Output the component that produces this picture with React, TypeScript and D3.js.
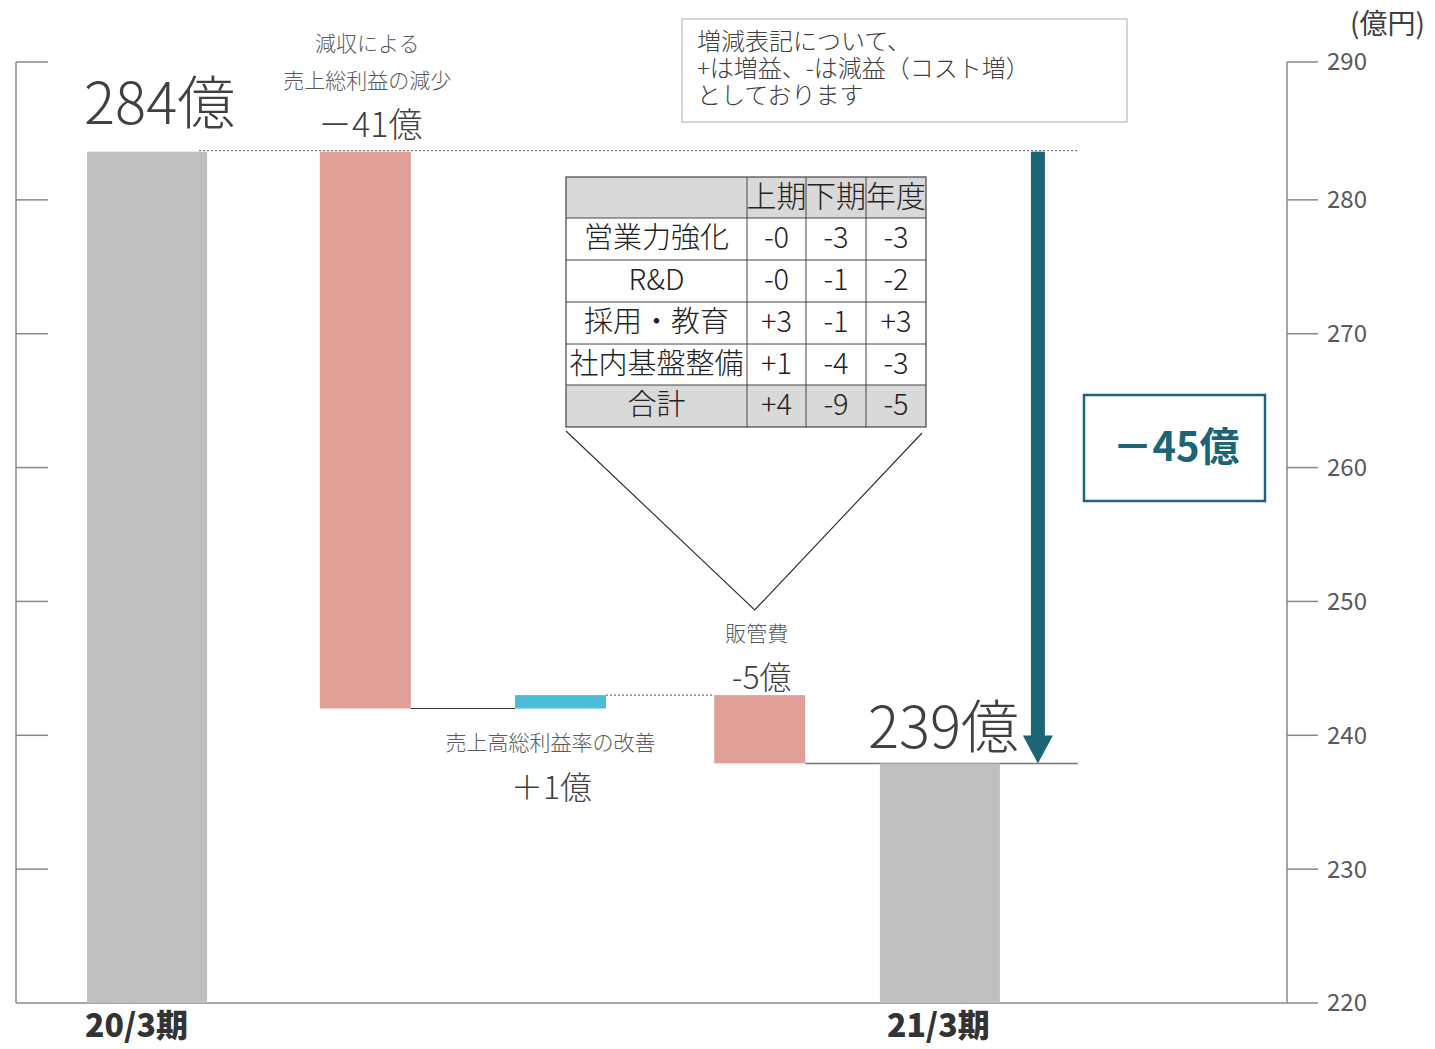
import * as d3 from 'd3';

const categories = ['20/3期', '減収', '改善', '販管費', '21/3期'];
const startValue = 283.6;
const deltas = [-41.6, 1.0, -5.1];
const endValue = 237.9;
const valueLabels = ['284億', '－41億', '＋1億', '-5億', '239億'];
const deltaTitles = [['減収による', '売上総利益の減少'], ['売上高総利益率の改善'], ['販管費']];
const totalLabel = '－45億';
const yTicks = [220, 230, 240, 250, 260, 270, 280, 290];
const unitLabel = '(億円)';
const noteLines = ['増減表記について、', '+は増益、-は減益（コスト増）', 'としております'];
const tableHeader = ['', '上期', '下期', '年度'];
const tableRows = [
  ['営業力強化', '-0', '-3', '-3'],
  ['R&D', '-0', '-1', '-2'],
  ['採用・教育', '+3', '-1', '+3'],
  ['社内基盤整備', '+1', '-4', '-3'],
  ['合計', '+4', '-9', '-5'],
];

const W = 1435;
const H = 1049;
const FONT = '"Noto Sans CJK JP", "Noto Sans", sans-serif';
const GREY = '#bfbfbf';
const RED = '#e0a097';
const BLUE = '#4bbdd8';
const TEAL = '#1d6475';
const TEXT = '#404040';
const LABEL = '#595959';

export default function App() {
  const y = d3.scaleLinear().domain([220, 290]).range([1003, 66]);
  const x = d3.scaleBand<string>().domain(categories).range([59, 1050]);
  // totals sit a little further out than the step bars
  const nudge = [-11, 9, 6, 7, -11];
  const axisLeftX = 16;
  const axisRightX = 1287;

  // waterfall segments
  const steps: { cat: string; y0: number; y1: number; color: string }[] = [];
  let running = startValue;
  steps.push({ cat: categories[0], y0: 220, y1: startValue, color: GREY });
  deltas.forEach((d, i) => {
    const next = running + d;
    steps.push({ cat: categories[i + 1], y0: running, y1: next, color: d < 0 ? RED : BLUE });
    running = next;
  });
  steps.push({ cat: categories[4], y0: 220, y1: endValue, color: GREY });

  const bc = (i: number) => (x(steps[i].cat) ?? 0) + x.bandwidth() / 2 + nudge[i];
  const barW = (i: number) => (i === 0 || i === 4 ? 120 : 91);
  const barX = (i: number) => bc(i) - barW(i) / 2;

  const arrowX = barX(4) + barW(4) + 38;
  const yStart = y(startValue);
  const yEnd = y(endValue);

  // table layout
  const tX = 566;
  const tY = 177;
  const colW = [181, 59, 60, 60];
  const rowH = [41, 42, 42, 42, 41, 42];
  const colX = colW.map((_, i) => tX + d3.sum(colW.slice(0, i)));
  const rowY = rowH.map((_, i) => tY + d3.sum(rowH.slice(0, i)));
  const tW = d3.sum(colW);
  const tH = d3.sum(rowH);
  const allRows = [tableHeader, ...tableRows];

  const tickY = (t: number) => y(t) - (t === 290 ? 4 : 0);

  return (
    <svg width={W} height={H} style={{ position: 'absolute', left: 0, top: 0, background: '#fff' }} fontFamily={FONT}>
      {/* axes */}
      <line x1={axisLeftX} x2={axisLeftX} y1={tickY(290)} y2={y(220)} stroke="#888" strokeWidth={1.5} />
      <line x1={axisRightX} x2={axisRightX} y1={tickY(290)} y2={y(220)} stroke="#888" strokeWidth={1.5} />
      <line x1={axisLeftX} x2={axisRightX} y1={y(220)} y2={y(220)} stroke="#888" strokeWidth={1.5} />
      {yTicks.map(t => (
        <g key={t}>
          {t !== 220 && <line x1={axisLeftX} x2={axisLeftX + 32} y1={tickY(t)} y2={tickY(t)} stroke="#888" strokeWidth={1.5} />}
          <line x1={axisRightX} x2={axisRightX + 31} y1={tickY(t)} y2={tickY(t)} stroke="#888" strokeWidth={1.5} />
          <text x={axisRightX + 40} y={tickY(t)} dy="0.35em" fontSize={24} fill={LABEL}>{t}</text>
        </g>
      ))}
      <text x={1425} y={24} dy="0.35em" textAnchor="end" fontSize={28} fill={TEXT}>{unitLabel}</text>

      {/* connectors */}
      <line x1={barX(0) + barW(0) - 8} x2={arrowX + 40} y1={yStart - 1} y2={yStart - 1} stroke="#555" strokeWidth={1} strokeDasharray="2,2" />
      <line x1={barX(1) + barW(1)} x2={barX(2)} y1={y(steps[1].y1)} y2={y(steps[1].y1)} stroke="#333" strokeWidth={1.2} />
      <line x1={barX(2) + barW(2)} x2={barX(3)} y1={y(steps[2].y1)} y2={y(steps[2].y1)} stroke="#555" strokeWidth={1} strokeDasharray="2,2" />
      <line x1={barX(3) + barW(3)} x2={arrowX + 40} y1={yEnd} y2={yEnd} stroke="#777" strokeWidth={1.5} />

      {/* bars */}
      {steps.map((s, i) => (
        <rect key={s.cat} x={barX(i)} width={barW(i)} y={y(Math.max(s.y0, s.y1))}
          height={Math.abs(y(s.y0) - y(s.y1))} fill={s.color} />
      ))}

      {/* arrow */}
      <rect x={arrowX - 7} width={14} y={yStart} height={yEnd - yStart - 26} fill={TEAL} />
      <path d={`M${arrowX - 15},${yEnd - 28} L${arrowX + 15},${yEnd - 28} L${arrowX},${yEnd} Z`} fill={TEAL} />

      {/* total box */}
      <rect x={1084} y={395} width={181} height={106} fill="none" stroke={TEAL} strokeWidth={2.5} />
      <text x={1176} y={447} dy="0.35em" textAnchor="middle" fontSize={40} fontWeight={700} fill={TEAL}>{totalLabel}</text>

      {/* value labels */}
      <text x={barX(0) - 3} y={104} dy="0.35em" fontSize={58} fontWeight={300} fill={TEXT}>{valueLabels[0]}</text>
      <text x={bc(1) + 5} y={125} dy="0.35em" textAnchor="middle" fontSize={34} fontWeight={300} fill={TEXT}>{valueLabels[1]}</text>
      <text x={bc(2) - 9} y={788} dy="0.35em" textAnchor="middle" fontSize={32} fontWeight={300} fill={TEXT}>{valueLabels[2]}</text>
      <text x={bc(3) + 2} y={678} dy="0.35em" textAnchor="middle" fontSize={32} fontWeight={300} fill={TEXT}>{valueLabels[3]}</text>
      <text x={barX(4) - 12} y={728} dy="0.35em" fontSize={58} fontWeight={300} fill={TEXT}>{valueLabels[4]}</text>

      {/* delta titles */}
      {deltaTitles[0].map((t, j) => (
        <text key={t} x={bc(1) + 2} y={44 + j * 37} dy="0.35em" textAnchor="middle" fontSize={21} fontWeight={300} fill={LABEL}>{t}</text>
      ))}
      <text x={bc(2) - 10} y={743} dy="0.35em" textAnchor="middle" fontSize={21} fontWeight={300} fill={LABEL}>{deltaTitles[1][0]}</text>
      <text x={bc(3) - 3} y={634} dy="0.35em" textAnchor="middle" fontSize={21} fontWeight={300} fill={LABEL}>{deltaTitles[2][0]}</text>

      {/* category labels */}
      {[0, 4].map(i => (
        <text key={i} x={barX(i) + (i === 0 ? -2 : 7)} y={1026} dy="0.35em" fontSize={32} fontWeight={900} fill="#333">{steps[i].cat}</text>
      ))}

      {/* note box */}
      <rect x={682} y={19} width={445} height={103} fill="#fff" stroke="#c8c8c8" strokeWidth={1.5} />
      {noteLines.map((t, j) => (
        <text key={t} x={697} y={42 + j * 27} dy="0.33em" fontSize={24} fontWeight={300} fill={TEXT}>{t}</text>
      ))}

      {/* table */}
      <rect x={tX} y={rowY[0]} width={tW} height={rowH[0]} fill="#d9d9d9" />
      <rect x={tX} y={rowY[5]} width={tW} height={rowH[5]} fill="#d9d9d9" />
      {rowY.slice(1).map((ry, i) => <line key={i} x1={tX} x2={tX + tW} y1={ry} y2={ry} stroke="#444" strokeWidth={1} />)}
      {colX.slice(1).map((cxp, i) => <line key={i} x1={cxp} x2={cxp} y1={tY} y2={tY + tH} stroke="#444" strokeWidth={1} />)}
      <rect x={tX} y={tY} width={tW} height={tH} fill="none" stroke="#444" strokeWidth={1.2} />
      {allRows.map((row, r) => row.map((cell, c) => (
        <text key={`${r}-${c}`} x={colX[c] + colW[c] / 2} y={rowY[r] + rowH[r] / 2 - 1} dy="0.35em" textAnchor="middle"
          fontSize={r === 0 ? 30 : 29} fontWeight={300} fill="#222">{cell}</text>
      )))}

      {/* callout lines */}
      <path d={`M${tX},${tY + tH + 4} L${bc(3) - 5},610 L${tX + tW - 4},${tY + tH + 6}`} fill="none" stroke="#333" strokeWidth={1.2} />
    </svg>
  );
}
